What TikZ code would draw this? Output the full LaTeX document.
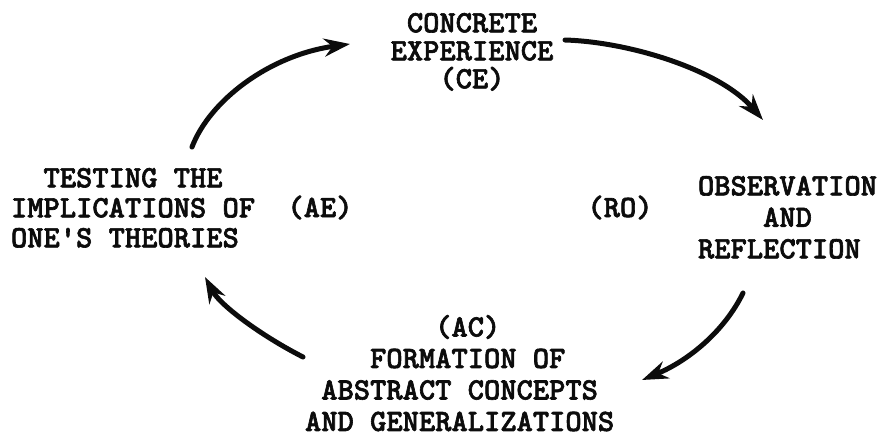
\documentclass[tikz,border=0pt]{standalone}
\usepackage{fontspec}
\usepackage{tikz}
\usetikzlibrary{arrows.meta, positioning}
\newfontfamily\typer{lmmonolt10-bold.otf}[FakeBold=2]
\definecolor{inkblack}{RGB}{12,12,12}
\tikzset{
  stage/.style={inner sep=0pt, outer sep=0pt, text=inkblack,
    font=\typer\fontsize{31}{30}\selectfont},
  cyclearrow/.style={-{Stealth[length=26pt, width=18pt]}, line width=5pt,
    color=inkblack, line cap=round}
}

\begin{document}
\begin{tikzpicture}[x=1pt, y=-1pt]
  \useasboundingbox (0,0) rectangle (884,439);

  % Concrete Experience
  \node[stage, anchor=north, align=center,
    font=\typer\fontsize{31}{28}\selectfont] (concrete) at (472,13) {
    CONCRETE\\EXPERIENCE\\(CE)};

  % Observation and Reflection
  \node[stage, anchor=north west, align=left,
    font=\typer\fontsize{31}{31.5}\selectfont] (reflect) at (698,176) {
    OBSERVATION\\\hphantom{OBSE}AND\\REFLECTION};
  \node[stage, anchor=base] (rotag) at (620,217) {(RO)};

  % Abstract Concepts
  \node[stage, anchor=north west, align=left,
    font=\typer\fontsize{31}{31.5}\selectfont] (abstract) at (305,315) {
    \hphantom{ABCDEFGH}(AC)\\\hphantom{ABCD}FORMATION OF\\\hphantom{A}ABSTRACT CONCEPTS\\AND GENERALIZATIONS};

  % Testing the Implications
  \node[stage, anchor=north west, align=left] (testing) at (11,168) {
    \hphantom{IM}TESTING THE\\IMPLICATIONS OF\\ONE'S THEORIES};
  \node[stage, anchor=base] (aetag) at (320,217) {(AE)};

  % Arrow ends
  \coordinate (testout) at (192,147);
  \coordinate (concin) at (350,44);
  \coordinate (concout) at (565,40);
  \coordinate (reflin) at (763,120);
  \coordinate (reflout) at (743,293);
  \coordinate (abstin) at (642,380);
  \coordinate (abstout) at (303,357);
  \coordinate (testin) at (205,277);

  % Arrows
  \draw[cyclearrow] (testout) .. controls (210,100) and (270,55) .. (concin);
  \draw[cyclearrow] (concout) .. controls (630,42) and (720,70) .. (reflin);
  \draw[cyclearrow] (reflout) .. controls (725,330) and (690,360) .. (abstin);
  \draw[cyclearrow] (abstout) .. controls (260,335) and (220,305) .. (testin);
\end{tikzpicture}
\end{document}
